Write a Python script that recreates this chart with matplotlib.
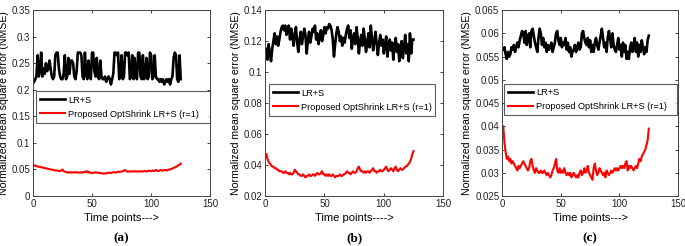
import numpy as np
import matplotlib
matplotlib.use('Agg')
import matplotlib.pyplot as plt
from matplotlib.ticker import FuncFormatter

plt.rcParams['font.family'] = ['Liberation Sans', 'DejaVu Sans']

# NMSE per time point
lrs_a = [0.215, 0.22, 0.225, 0.265, 0.225, 0.235, 0.27, 0.225, 0.24, 0.23,
         0.25, 0.235, 0.24, 0.255, 0.24, 0.225, 0.22, 0.225, 0.265, 0.27,
         0.27, 0.24, 0.225, 0.22, 0.22, 0.23, 0.265, 0.22, 0.225, 0.26,
         0.23, 0.255, 0.255, 0.25, 0.225, 0.22, 0.235, 0.27, 0.27, 0.27,
         0.265, 0.225, 0.22, 0.27, 0.23, 0.22, 0.255, 0.225, 0.22, 0.27,
         0.27, 0.235, 0.225, 0.26, 0.225, 0.22, 0.255, 0.225, 0.22, 0.22,
         0.225, 0.215, 0.22, 0.225, 0.22, 0.21, 0.22, 0.23, 0.27, 0.27,
         0.265, 0.27, 0.22, 0.225, 0.265, 0.22, 0.225, 0.27, 0.27, 0.265,
         0.27, 0.22, 0.225, 0.265, 0.22, 0.26, 0.225, 0.22, 0.27, 0.27,
         0.225, 0.22, 0.265, 0.22, 0.225, 0.26, 0.22, 0.225, 0.27, 0.265,
         0.22, 0.225, 0.265, 0.225, 0.22, 0.22, 0.215, 0.22, 0.215, 0.22,
         0.21, 0.215, 0.22, 0.215, 0.22, 0.21, 0.22, 0.225, 0.26, 0.27,
         0.265, 0.22, 0.215, 0.265, 0.22]
opt_a = [0.058, 0.057, 0.056, 0.056, 0.055, 0.055, 0.054, 0.054, 0.053, 0.053,
         0.052, 0.052, 0.051, 0.051, 0.050, 0.050, 0.049, 0.049, 0.048, 0.048,
         0.048, 0.047, 0.047, 0.048, 0.050, 0.047, 0.046, 0.045, 0.045, 0.044,
         0.045, 0.044, 0.045, 0.044, 0.045, 0.045, 0.044, 0.045, 0.044, 0.044,
         0.045, 0.044, 0.045, 0.046, 0.045, 0.047, 0.044, 0.045, 0.044, 0.043,
         0.044, 0.044, 0.045, 0.044, 0.044, 0.043, 0.044, 0.043, 0.042, 0.043,
         0.042, 0.043, 0.043, 0.044, 0.044, 0.043, 0.044, 0.045, 0.045, 0.044,
         0.045, 0.046, 0.045, 0.046, 0.046, 0.047, 0.048, 0.049, 0.047, 0.046,
         0.046, 0.047, 0.046, 0.046, 0.047, 0.046, 0.047, 0.046, 0.046, 0.047,
         0.046, 0.047, 0.046, 0.047, 0.047, 0.046, 0.047, 0.048, 0.047, 0.047,
         0.048, 0.047, 0.048, 0.049, 0.048, 0.047, 0.048, 0.049, 0.048, 0.048,
         0.049, 0.049, 0.048, 0.049, 0.050, 0.050, 0.051, 0.052, 0.053, 0.054,
         0.055, 0.056, 0.058, 0.059, 0.061]

lrs_b = [0.115, 0.108, 0.118, 0.112, 0.107, 0.115, 0.120, 0.125, 0.118, 0.123,
         0.117, 0.121, 0.126, 0.129, 0.130, 0.127, 0.130, 0.124, 0.129, 0.130,
         0.121, 0.128, 0.123, 0.117, 0.125, 0.129, 0.119, 0.113, 0.121, 0.126,
         0.118, 0.123, 0.128, 0.124, 0.112, 0.120, 0.126, 0.119, 0.123, 0.128,
         0.126, 0.130, 0.121, 0.125, 0.118, 0.123, 0.127, 0.120, 0.124, 0.129,
         0.125, 0.129, 0.128, 0.131, 0.130, 0.127, 0.121, 0.110, 0.118, 0.125,
         0.129, 0.126, 0.120, 0.123, 0.117, 0.122, 0.119, 0.124, 0.128, 0.130,
         0.122, 0.127, 0.115, 0.121, 0.125, 0.118, 0.129, 0.122, 0.112, 0.120,
         0.124, 0.117, 0.128, 0.121, 0.113, 0.119, 0.125, 0.116, 0.130, 0.122,
         0.114, 0.120, 0.126, 0.118, 0.111, 0.119, 0.124, 0.117, 0.121, 0.112,
         0.118, 0.123, 0.110, 0.116, 0.121, 0.114, 0.119, 0.108, 0.117, 0.122,
         0.113, 0.118, 0.107, 0.115, 0.120, 0.109, 0.116, 0.124, 0.112, 0.118,
         0.107, 0.125, 0.112, 0.121, 0.121]
opt_b = [0.047, 0.044, 0.042, 0.041, 0.040, 0.039, 0.039, 0.038, 0.038, 0.037,
         0.037, 0.036, 0.036, 0.036, 0.035, 0.035, 0.036, 0.035, 0.035, 0.034,
         0.035, 0.034, 0.034, 0.035, 0.037, 0.036, 0.035, 0.034, 0.034, 0.033,
         0.033, 0.034, 0.033, 0.032, 0.033, 0.033, 0.034, 0.033, 0.033, 0.034,
         0.034, 0.033, 0.034, 0.035, 0.034, 0.034, 0.035, 0.036, 0.034, 0.034,
         0.033, 0.034, 0.033, 0.034, 0.033, 0.033, 0.034, 0.033, 0.032, 0.033,
         0.033, 0.033, 0.034, 0.033, 0.033, 0.034, 0.034, 0.035, 0.036, 0.035,
         0.035, 0.034, 0.035, 0.036, 0.035, 0.035, 0.036, 0.038, 0.039, 0.037,
         0.036, 0.036, 0.035, 0.036, 0.035, 0.036, 0.036, 0.035, 0.036, 0.037,
         0.038, 0.036, 0.036, 0.035, 0.036, 0.036, 0.037, 0.036, 0.036, 0.037,
         0.038, 0.039, 0.037, 0.036, 0.037, 0.038, 0.037, 0.036, 0.038, 0.039,
         0.037, 0.036, 0.037, 0.038, 0.037, 0.037, 0.038, 0.039, 0.039, 0.040,
         0.041, 0.042, 0.044, 0.047, 0.049]

lrs_c = [0.0565, 0.0570, 0.0555, 0.0545, 0.0560, 0.0550, 0.0555, 0.0570, 0.0565, 0.0575,
         0.0560, 0.0570, 0.0580, 0.0570, 0.0585, 0.0595, 0.0605, 0.0600, 0.0580, 0.0605,
         0.0575, 0.0590, 0.0600, 0.0570, 0.0605, 0.0610, 0.0595, 0.0580, 0.0570, 0.0560,
         0.0590, 0.0610, 0.0600, 0.0575, 0.0590, 0.0570, 0.0580, 0.0560, 0.0575, 0.0565,
         0.0570, 0.0580, 0.0560, 0.0570, 0.0580, 0.0600, 0.0605, 0.0585, 0.0575, 0.0590,
         0.0570, 0.0580, 0.0575, 0.0590, 0.0565, 0.0580, 0.0560, 0.0570, 0.0550, 0.0560,
         0.0565, 0.0575, 0.0560, 0.0570, 0.0580, 0.0565, 0.0570, 0.0600, 0.0605, 0.0590,
         0.0580, 0.0575, 0.0590, 0.0570, 0.0585, 0.0560, 0.0575, 0.0560, 0.0580, 0.0590,
         0.0575, 0.0565, 0.0580, 0.0595, 0.0610, 0.0590, 0.0570, 0.0580, 0.0560, 0.0590,
         0.0605, 0.0590, 0.0570, 0.0600, 0.0575, 0.0565, 0.0560, 0.0575, 0.0590, 0.0565,
         0.0575, 0.0550, 0.0580, 0.0560, 0.0575, 0.0545, 0.0560, 0.0545, 0.0570, 0.0580,
         0.0560, 0.0575, 0.0590, 0.0560, 0.0580, 0.0550, 0.0575, 0.0560, 0.0585, 0.0570,
         0.0555, 0.0570, 0.0560, 0.0585, 0.0595]
opt_c = [0.0400, 0.0365, 0.0345, 0.0330, 0.0335, 0.0325, 0.0330, 0.0320, 0.0325, 0.0320,
         0.0315, 0.0310, 0.0305, 0.0315, 0.0310, 0.0315, 0.0320, 0.0325, 0.0320, 0.0315,
         0.0310, 0.0305, 0.0310, 0.0325, 0.0330, 0.0315, 0.0305, 0.0300, 0.0310, 0.0305,
         0.0300, 0.0300, 0.0305, 0.0300, 0.0300, 0.0305, 0.0300, 0.0295, 0.0300, 0.0295,
         0.0290, 0.0295, 0.0305, 0.0310, 0.0320, 0.0330, 0.0305, 0.0300, 0.0310, 0.0300,
         0.0305, 0.0300, 0.0310, 0.0300, 0.0295, 0.0300, 0.0295, 0.0300, 0.0290, 0.0295,
         0.0300, 0.0295, 0.0290, 0.0295, 0.0290, 0.0300, 0.0305, 0.0295, 0.0300, 0.0310,
         0.0300, 0.0305, 0.0315, 0.0300, 0.0295, 0.0290, 0.0285, 0.0310, 0.0320, 0.0305,
         0.0295, 0.0300, 0.0310, 0.0305, 0.0300, 0.0295, 0.0300, 0.0290, 0.0305, 0.0300,
         0.0295, 0.0300, 0.0305, 0.0300, 0.0305, 0.0310, 0.0305, 0.0310, 0.0305, 0.0310,
         0.0315, 0.0310, 0.0315, 0.0310, 0.0320, 0.0325, 0.0305, 0.0315, 0.0310, 0.0315,
         0.0310, 0.0305, 0.0310, 0.0315, 0.0310, 0.0320, 0.0330, 0.0325, 0.0335, 0.0340,
         0.0345, 0.0350, 0.0360, 0.0370, 0.0395]

labels = ['LR+S', 'Proposed OptShrink LR+S (r=1)']
captions = ['(a)', '(b)', '(c)']
xlabels = ['Time points--->', 'Time points---->', 'Time points--->']
ylims = [(0, 0.35), (0.02, 0.14), (0.025, 0.065)]
ysteps = [0.05, 0.02, 0.005]
xticks = [0, 50, 100, 150]

fig = plt.figure(figsize=(6.85, 2.46), dpi=100)

# axes boxes in figure fraction, and legend boxes in axes fraction
boxes = [[0.048, 0.203, 0.259, 0.756],
         [0.387, 0.203, 0.260, 0.756],
         [0.733, 0.203, 0.257, 0.756]]
leg_boxes = [(0.017, 0.382, 0.983, 0.193),
             (0.022, 0.414, 0.933, 0.204),
             (0.011, 0.419, 0.983, 0.199)]

series = [(lrs_a, opt_a), (lrs_b, opt_b), (lrs_c, opt_c)]

for i, (lrs, opt) in enumerate(series):
    ax = fig.add_axes(boxes[i])
    t = np.arange(1, len(lrs) + 1)
    ax.plot(t, lrs, color='black', lw=1.9, label=labels[0])
    ax.plot(t, opt, color='red', lw=1.5, label=labels[1])

    ax.set_xlim(0, 150)
    ax.set_ylim(*ylims[i])
    ax.set_xticks(xticks)
    lo, hi = ylims[i]
    ax.set_yticks(np.arange(lo, hi + ysteps[i] / 2, ysteps[i]))
    ax.yaxis.set_major_formatter(FuncFormatter(lambda v, p: '%g' % round(v, 4)))
    ax.tick_params(direction='in', top=True, right=True, length=2.5, width=0.6,
                   labelsize=7, pad=2, colors='#222222')
    for s in ax.spines.values():
        s.set_linewidth(0.7)
        s.set_color('#444444')

    ax.set_xlabel(xlabels[i], fontsize=8, labelpad=3)
    ax.set_ylabel('Normalized mean square error (NMSE)', fontsize=7.6, labelpad=2)

    leg = ax.legend(loc='center', bbox_to_anchor=leg_boxes[i], mode='expand',
                    fancybox=False, frameon=True, edgecolor='#333333',
                    fontsize=6.6, handlelength=2.7, handletextpad=0.35,
                    borderpad=0.45, labelspacing=0.55, borderaxespad=0)
    leg.get_frame().set_linewidth(0.8)

    ax.text(0.5, -0.226, captions[i], transform=ax.transAxes, ha='center',
            va='center', fontsize=9.5, fontweight='bold', family='Liberation Serif')

fig.savefig('out.png', dpi=100)
